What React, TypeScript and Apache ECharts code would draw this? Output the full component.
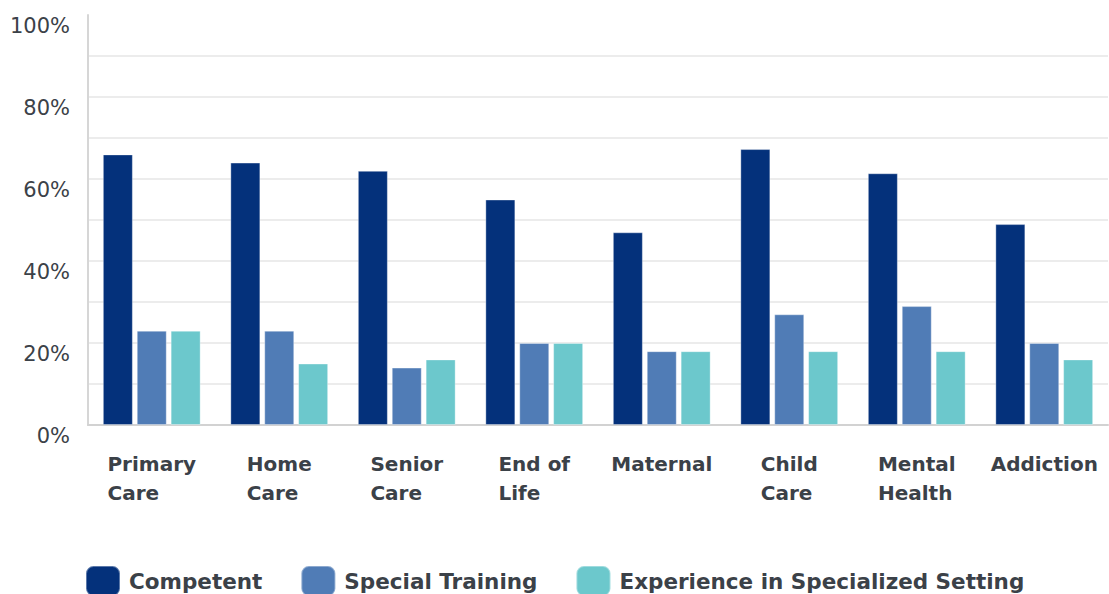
import React, { useEffect, useRef } from "react";
import * as echarts from "echarts";

const categories = [
  "Primary\nCare",
  "Home\nCare",
  "Senior\nCare",
  "End of\nLife",
  "Maternal",
  "Child\nCare",
  "Mental\nHealth",
  "Addiction",
];
const competent = [66, 64, 62, 55, 47, 67.3, 61.4, 49];
const specialTraining = [23, 23, 14, 20, 18, 27, 29, 20];
const experience = [23, 15, 16, 20, 18, 18, 18, 16];
const seriesNames = ["Competent", "Special Training", "Experience in Specialized Setting"];
const colors = ["#04317b", "#507cb6", "#6cc8cc"];

const FONT = "'DejaVu Sans', sans-serif";
const TEXT = "#3b4148";

export default function App() {
  const ref = useRef<HTMLDivElement>(null);
  useEffect(() => {
    if (!ref.current) return;
    const chart = echarts.init(ref.current, undefined, { renderer: "svg" });
    const splitColors = Array.from({ length: 10 }, () => "#ececec").concat(["rgba(0,0,0,0)"]);
    const mk = (name: string, data: number[], color: string) => ({
      name,
      type: "bar",
      data,
      barWidth: 30,
      barGap: "13%",
      itemStyle: { color, borderColor: "rgba(255,255,255,0.35)", borderWidth: 1 },
    });
    chart.setOption({
      animation: false,
      color: colors,
      grid: { left: 88, right: 1, top: 15, bottom: 169, containLabel: false },
      legend: {
        left: 85,
        top: 565,
        padding: 0,
        icon: "roundRect",
        itemWidth: 34,
        itemHeight: 30,
        itemGap: 38,
        textStyle: {
          fontFamily: FONT,
          fontSize: 21.5,
          fontWeight: "bold",
          color: TEXT,
          padding: [0, 0, 0, 4],
        },
        data: seriesNames,
      },
      xAxis: {
        type: "category",
        data: categories,
        axisLine: { show: true, lineStyle: { color: "#d2d2d2", width: 2 } },
        axisTick: { show: false },
        axisLabel: {
          interval: 0,
          margin: 24,
          align: "center",
          verticalAlign: "top",
          formatter: (v: string) => v.split("\n").map((l) => `{a|${l}}`).join("\n"),
          rich: {
            a: {
              align: "left",
              fontFamily: FONT,
              fontSize: 20,
              fontWeight: "bold",
              color: TEXT,
              lineHeight: 29,
            },
          },
        },
      },
      yAxis: {
        type: "value",
        min: 0,
        max: 100,
        interval: 10,
        axisLine: { show: true, lineStyle: { color: "#d6d6d6", width: 2 } },
        axisTick: { show: false },
        splitLine: { show: true, lineStyle: { color: splitColors, width: 2 } },
        axisLabel: {
          margin: 18,
          verticalAlign: "top",
          fontFamily: FONT,
          fontSize: 21,
          color: TEXT,
          formatter: (v: number) => (v % 20 === 0 ? `${v}%` : ""),
        },
      },
      series: [
        mk(seriesNames[0], competent, colors[0]),
        mk(seriesNames[1], specialTraining, colors[1]),
        mk(seriesNames[2], experience, colors[2]),
      ],
    });
    return () => chart.dispose();
  }, []);
  return (
    <div
      ref={ref}
      style={{ position: "fixed", left: 0, top: 0, width: 1109, height: 594, background: "#fff" }}
    />
  );
}
